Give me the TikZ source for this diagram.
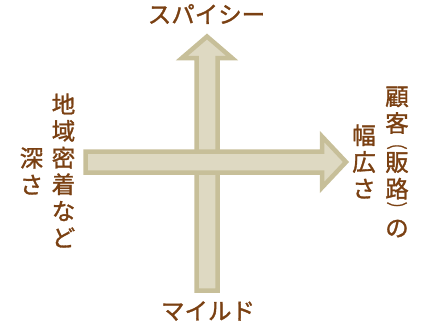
\documentclass[tikz,border=0pt]{standalone}
\usepackage{fontspec}
\newfontfamily\jp[FakeBold=1.3]{Noto Sans CJK JP}
\definecolor{arrowline}{RGB}{199,191,153}
\definecolor{arrowfill}{RGB}{222,217,194}
\definecolor{txtbrown}{RGB}{122,64,18}
\newcommand\vparen[1]{\scalebox{1.5}[1]{\fontsize{14}{14}\selectfont #1}}
\begin{document}
\begin{tikzpicture}[x=1pt,y=-1pt,
  fatarrow/.style={draw=arrowline, fill=arrowfill, line width=4.5pt, line join=miter},
  lbl/.style={text=txtbrown, inner sep=0pt, font=\jp\fontsize{23.5}{26.7}\selectfont, align=center}]
\useasboundingbox (0,0) rectangle (421,324);
% vertical axis (spicy - mild)
\draw[fatarrow] (196.5,290.5) -- (196.5,58) -- (182,58) -- (207,36.5) -- (232,58)
  -- (217.5,58) -- (217.5,290.5) -- cycle;
% horizontal axis (depth - breadth)
\draw[fatarrow] (85.5,151.5) -- (322,151.5) -- (322,136.5) -- (346,162) -- (322,187.5)
  -- (322,172.5) -- (85.5,172.5) -- cycle;
% labels
\node[lbl] (top) at (206.5,14) {スパイシー};
\node[lbl] (bottom) at (208,311) {マイルド};
\node[lbl] (left1) at (63.5,170.5) {地\\域\\密\\着\\な\\ど};
\node[lbl] (left2) at (31.5,171) {深\\さ};
\node[lbl] (right1) at (397,162) {顧\\客\\[-10.7pt]\vparen{︵}\\[-3.7pt]販\\路\\[-10.2pt]\vparen{︶}\\[-4.2pt]の};
\node[lbl] (right2) at (364,161.5) {幅\\広\\さ};
\end{tikzpicture}
\end{document}
